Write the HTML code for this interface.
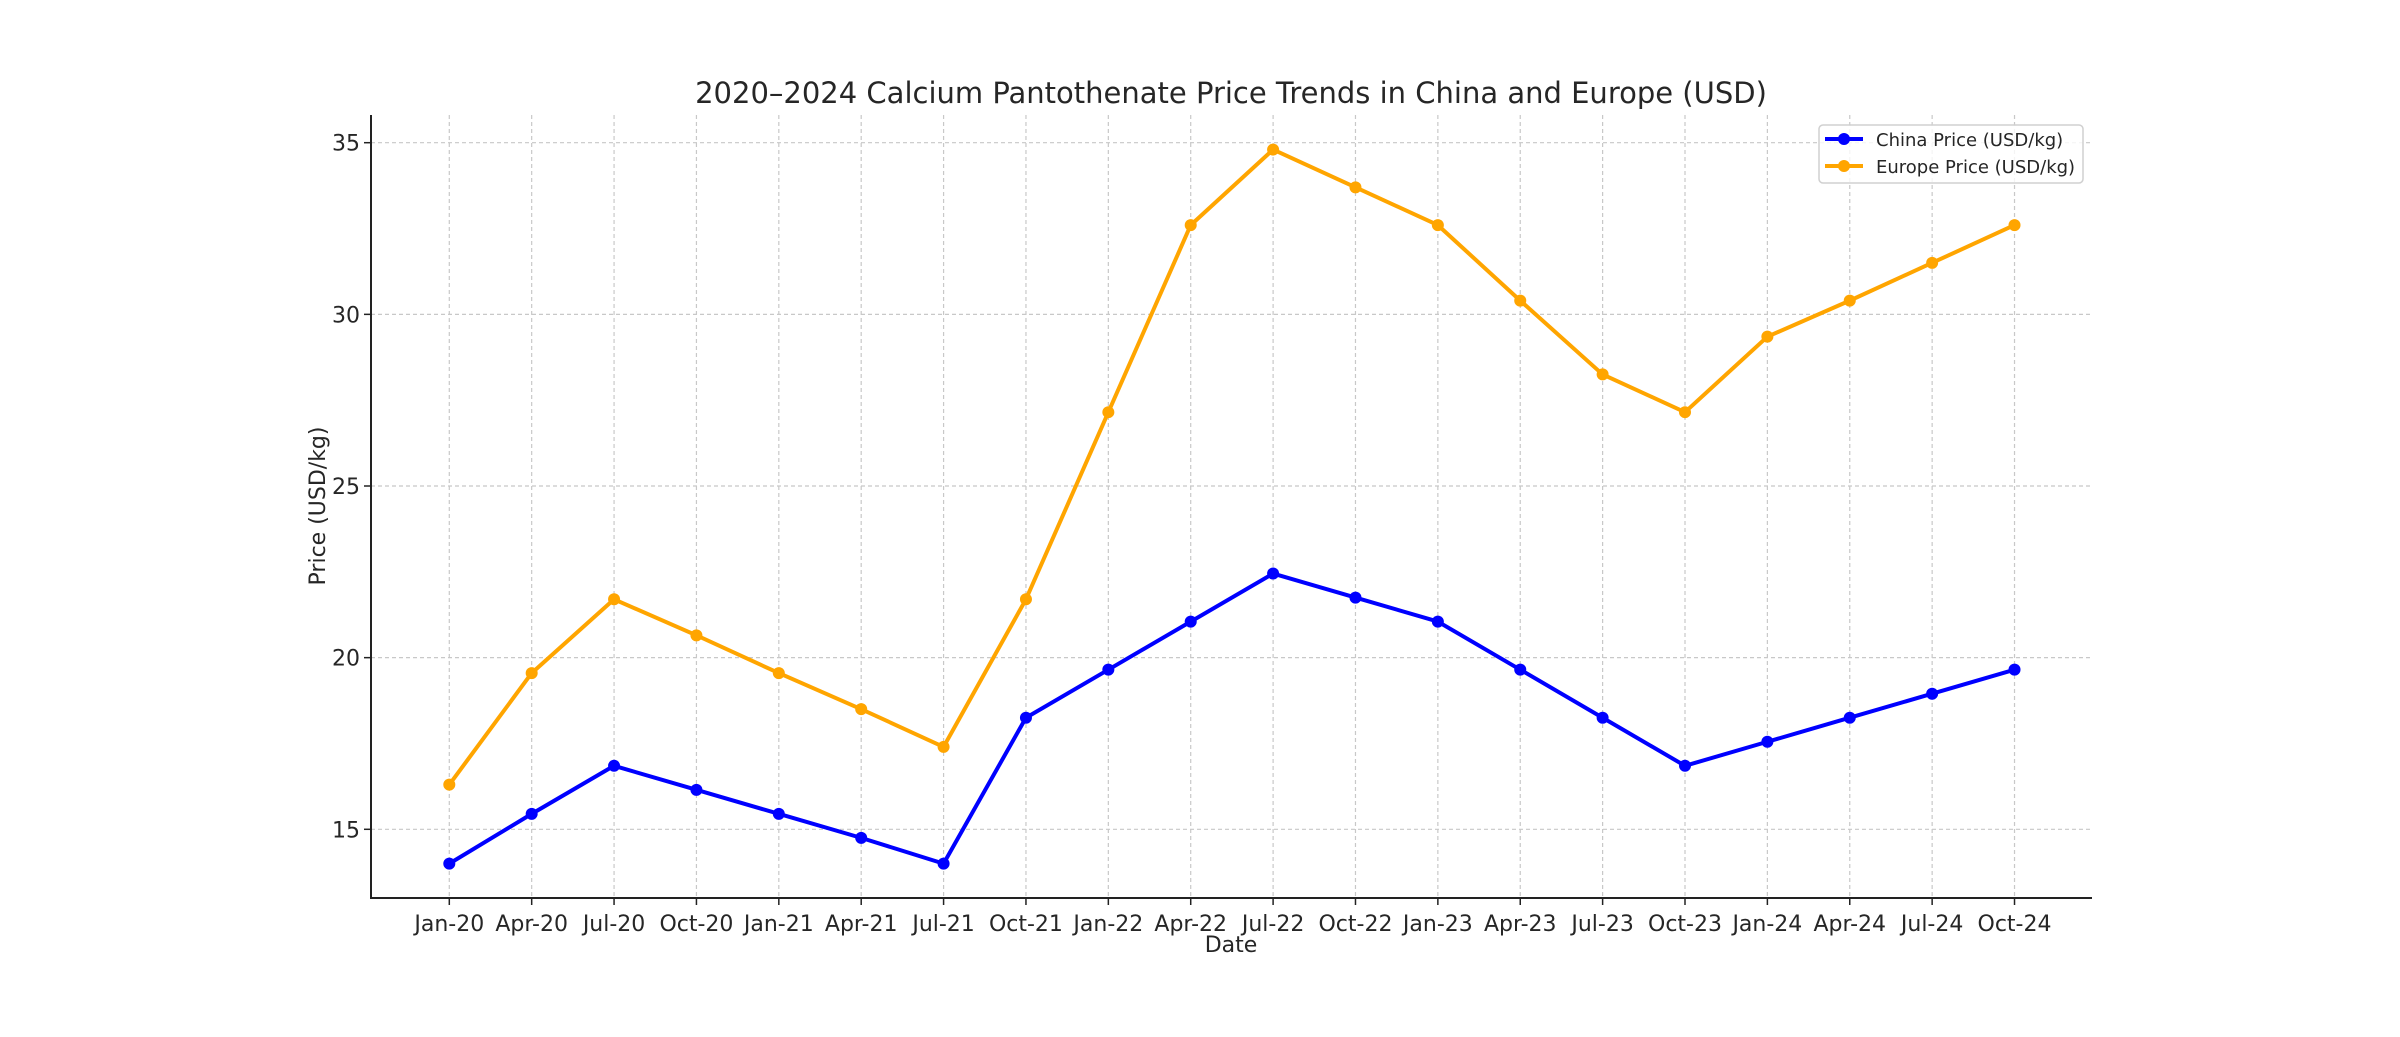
<!DOCTYPE html>
<html><head><meta charset="utf-8"><style>
html,body{margin:0;padding:0;background:#fff;}
svg{display:block;font-family:"DejaVu Sans","Liberation Sans",sans-serif;}
</style></head><body>
<svg id="chart" width="2400" height="1037" xmlns="http://www.w3.org/2000/svg">
<rect width="2400" height="1037" fill="#fff"/>
<text x="1231" y="103" font-size="29" text-anchor="middle" fill="#262626">2020–2024 Calcium Pantothenate Price Trends in China and Europe (USD)</text>
<g id="grid"></g>
<g id="axes"></g>
<g id="series"></g>
<text x="1231" y="952" font-size="22" text-anchor="middle" fill="#262626">Date</text>
<text transform="translate(325,506) rotate(-90)" font-size="22" text-anchor="middle" fill="#262626">Price (USD/kg)</text>
<g>
<rect x="1819" y="125" width="264" height="58" rx="4" fill="#fff" fill-opacity="0.8" stroke="#d0d0d0" stroke-width="1.5"/>
<line x1="1825" y1="139" x2="1863" y2="139" stroke="#0000ff" stroke-width="4"/>
<circle cx="1844" cy="139" r="6" fill="#0000ff"/>
<text x="1876" y="146" font-size="18" fill="#262626">China Price (USD/kg)</text>
<line x1="1825" y1="166" x2="1863" y2="166" stroke="#ffa500" stroke-width="4"/>
<circle cx="1844" cy="166" r="6" fill="#ffa500"/>
<text x="1876" y="173" font-size="18" fill="#262626">Europe Price (USD/kg)</text>
</g>
</svg>
<script>
const categories=["Jan-20","Apr-20","Jul-20","Oct-20","Jan-21","Apr-21","Jul-21","Oct-21","Jan-22","Apr-22","Jul-22","Oct-22","Jan-23","Apr-23","Jul-23","Oct-23","Jan-24","Apr-24","Jul-24","Oct-24"];
const chinaPrices=[14,15.45,16.85,16.15,15.45,14.75,14.0,18.25,19.65,21.05,22.45,21.75,21.05,19.65,18.25,16.85,17.55,18.25,18.95,19.65];
const europePrices=[16.3,19.55,21.7,20.65,19.55,18.5,17.4,21.7,27.15,32.6,34.8,33.7,32.6,30.4,28.25,27.15,29.35,30.4,31.5,32.6];
const yTicks=[15,20,25,30,35];
const NS="http://www.w3.org/2000/svg";
const L=371,R=2092,T=115,B=898;
const x0=449.3,dx=82.38;
function xs(i){return x0+i*dx;}
function ys(v){return 829.3-(v-15)*34.33;}
function mk(tag,attrs,parent){const e=document.createElementNS(NS,tag);for(const k in attrs)e.setAttribute(k,attrs[k]);parent.appendChild(e);return e;}
const grid=document.getElementById('grid'),axes=document.getElementById('axes'),ser=document.getElementById('series');
categories.forEach((c,i)=>{
  const g=mk('line',{x1:xs(i),x2:xs(i),y1:T,y2:B,stroke:'#c8c8c8','stroke-width':1.2,'stroke-dasharray':'4,3'},grid);
  
  
  mk('line',{x1:xs(i),x2:xs(i),y1:B,y2:B+7,stroke:'#222','stroke-width':1.5},axes);
  const t=mk('text',{x:xs(i),y:B+33,'font-size':22,'text-anchor':'middle',fill:'#262626'},axes);
  t.textContent=c;
  
  
});
yTicks.forEach(v=>{
  const g=mk('line',{x1:L,x2:R,y1:ys(v),y2:ys(v),stroke:'#c8c8c8','stroke-width':1.2,'stroke-dasharray':'4,3'},grid);
  
  
  mk('line',{x1:L-7,x2:L,y1:ys(v),y2:ys(v),stroke:'#222','stroke-width':1.5},axes);
  const t=mk('text',{x:L-11,y:ys(v)+8,'font-size':22,'text-anchor':'end',fill:'#262626'},axes);
  t.textContent=v;
  
  
});
const ax=mk('path',{d:`M${L},${T}V${B}H${R}`,fill:'none',stroke:'#222','stroke-width':2},axes);


function drawSeries(vals,color,name){
  const p=mk('polyline',{points:vals.map((v,i)=>xs(i)+','+ys(v)).join(' '),fill:'none',stroke:color,'stroke-width':4,'stroke-linejoin':'round'},ser);
  
  
  vals.forEach((v,i)=>{
    const c=mk('circle',{cx:xs(i),cy:ys(v),r:6,fill:color},ser);
    
    
  });
}
drawSeries(europePrices,'#ffa500','europe-price');
drawSeries(chinaPrices,'#0000ff','china-price');
</script>
</body></html>
